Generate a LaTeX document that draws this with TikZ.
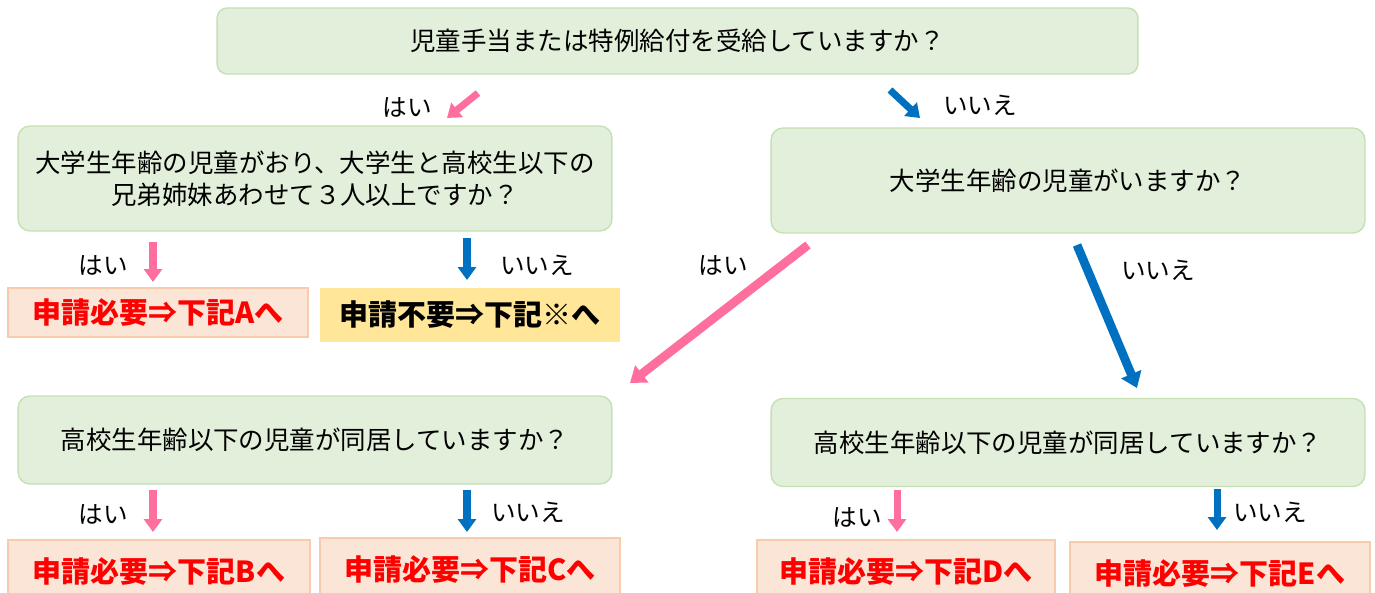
\documentclass[tikz,border=0pt]{standalone}
\usepackage{fontspec}
\setmainfont{Noto Sans CJK JP}
\usepackage{tikz}
\usetikzlibrary{arrows.meta,positioning}

\definecolor{qfill}{HTML}{E2EFDA}
\definecolor{qline}{HTML}{C5E0B4}
\definecolor{rfill}{HTML}{FBE5D6}
\definecolor{rline}{HTML}{F8CBAD}
\definecolor{nfill}{HTML}{FFE699}
\definecolor{yescol}{HTML}{FF6F9E}
\definecolor{nocol}{HTML}{0070C0}
\definecolor{redtext}{HTML}{FF0000}

\begin{document}
\begin{tikzpicture}[x=0.02cm, y=-0.02cm,
      block_question/.style ={rectangle, rounded corners=0.24cm, draw=qline,
        line width=0.8pt, fill=qfill, align=center, font=\fontsize{14.5}{18}\selectfont,
        minimum width=11.88cm},
      block_result/.style ={rectangle, draw=rline, line width=0.8pt, fill=rfill,
        text=redtext, font=\fontsize{16.5}{20}\selectfont\bfseries,
        minimum width=6cm},
      block_noborder/.style ={rectangle, draw=none, fill=none,
        font=\fontsize{14}{16}\selectfont},
      line_yes/.style ={draw=yescol, line width=4pt,
        -{Triangle[length=0.26cm, width=0.36cm]}},
      line_no/.style ={draw=nocol, line width=4pt,
        -{Triangle[length=0.26cm, width=0.36cm]}}]
    \useasboundingbox (0,0) rectangle (1375,592);
    %
    % 1. placing the question and result boxes
    % question - row 1
    \node [block_question, rounded corners=0.2cm, minimum width=18.42cm,
      minimum height=1.32cm] (q_paid) at (677.5,41) {児童手当または特例給付を受給していますか？};
    % question - row 2
    \node [block_question, minimum height=2.1cm] (q_three) at (315,178.5)
      {大学生年齢の児童がおり、大学生と高校生以下の\\兄弟姉妹あわせて３人以上ですか？};
    \node [block_question, minimum height=2.1cm] (q_univ) at (1068,180.5)
      {大学生年齢の児童がいますか？};
    % result - row 2'
    \node [block_result, minimum height=0.98cm] (res_a) at (158,312.5) {申請必要⇒下記Aへ};
    \node [block_result, draw=none, fill=nfill, text=black, minimum height=1.08cm]
      (res_none) at (470,315) {申請不要⇒下記※へ};
    % question - row 3
    \node [block_question, minimum height=1.76cm] (q_high_l) at (315,440)
      {高校生年齢以下の児童が同居していますか？};
    \node [block_question, minimum height=1.76cm] (q_high_r) at (1068,442.5)
      {高校生年齢以下の児童が同居していますか？};
    % result - row 3'
    \node [block_result, minimum width=6.04cm, minimum height=1.28cm] (res_b) at (159,572) {申請必要⇒下記Bへ};
    \node [block_result, minimum height=1.28cm] (res_c) at (470,570) {申請必要⇒下記Cへ};
    \node [block_result, minimum width=5.96cm, minimum height=1.28cm] (res_d) at (906,572) {申請必要⇒下記Dへ};
    \node [block_result, minimum height=1.28cm] (res_e) at (1220,574) {申請必要⇒下記Eへ};
    %
    % arrow ends (the arrows float between the boxes)
    \coordinate (yes0_s) at (478,93);   \coordinate (yes0_e) at (447,118);
    \coordinate (no0_s)  at (890,90);   \coordinate (no0_e)  at (920,118);
    \coordinate (yes1l_s) at (153,242); \coordinate (yes1l_e) at (153,282);
    \coordinate (no1l_s)  at (467,238); \coordinate (no1l_e)  at (467,280);
    \coordinate (yes1r_s) at (808,245); \coordinate (yes1r_e) at (630,383);
    \coordinate (no1r_s)  at (1077,245); \coordinate (no1r_e) at (1137,388);
    \coordinate (yes2l_s) at (153,490); \coordinate (yes2l_e) at (153,532);
    \coordinate (no2l_s)  at (467,490); \coordinate (no2l_e)  at (467,532);
    \coordinate (yes2r_s) at (897,490); \coordinate (yes2r_e) at (897,532);
    \coordinate (no2r_s)  at (1217,489); \coordinate (no2r_e) at (1217,530);
    %
    % 2. connecting nodes with paths
    \begin{scope}[every path/.style=line_yes]
      \path (yes0_s) -- (yes0_e);
      \path (yes1l_s) -- (yes1l_e);
      \path[line width=5pt, -{Triangle[length=0.3cm, width=0.42cm]}] (yes1r_s) -- (yes1r_e);
      \path (yes2l_s) -- (yes2l_e);
      \path (yes2r_s) -- (yes2r_e);
    \end{scope}
    \begin{scope}[every path/.style=line_no]
      \path (no0_s) -- (no0_e);
      \path (no1l_s) -- (no1l_e);
      \path[line width=5pt, -{Triangle[length=0.3cm, width=0.42cm]}] (no1r_s) -- (no1r_e);
      \path (no2l_s) -- (no2l_e);
      \path (no2r_s) -- (no2r_e);
    \end{scope}
    %
    % 3. yes / no labels
    \node [block_noborder] (lab_yes0) at (407,107) {はい};
    \node [block_noborder] (lab_no0)  at (980,105) {いいえ};
    \node [block_noborder] (lab_yes1l) at (103,265) {はい};
    \node [block_noborder] (lab_no1l)  at (537,265) {いいえ};
    \node [block_noborder] (lab_yes1r) at (723,265) {はい};
    \node [block_noborder] (lab_no1r)  at (1158,270) {いいえ};
    \node [block_noborder] (lab_yes2l) at (103,514) {はい};
    \node [block_noborder] (lab_no2l)  at (528,512) {いいえ};
    \node [block_noborder] (lab_yes2r) at (857,517) {はい};
    \node [block_noborder] (lab_no2r)  at (1270,512) {いいえ};
  \end{tikzpicture}
\end{document}
